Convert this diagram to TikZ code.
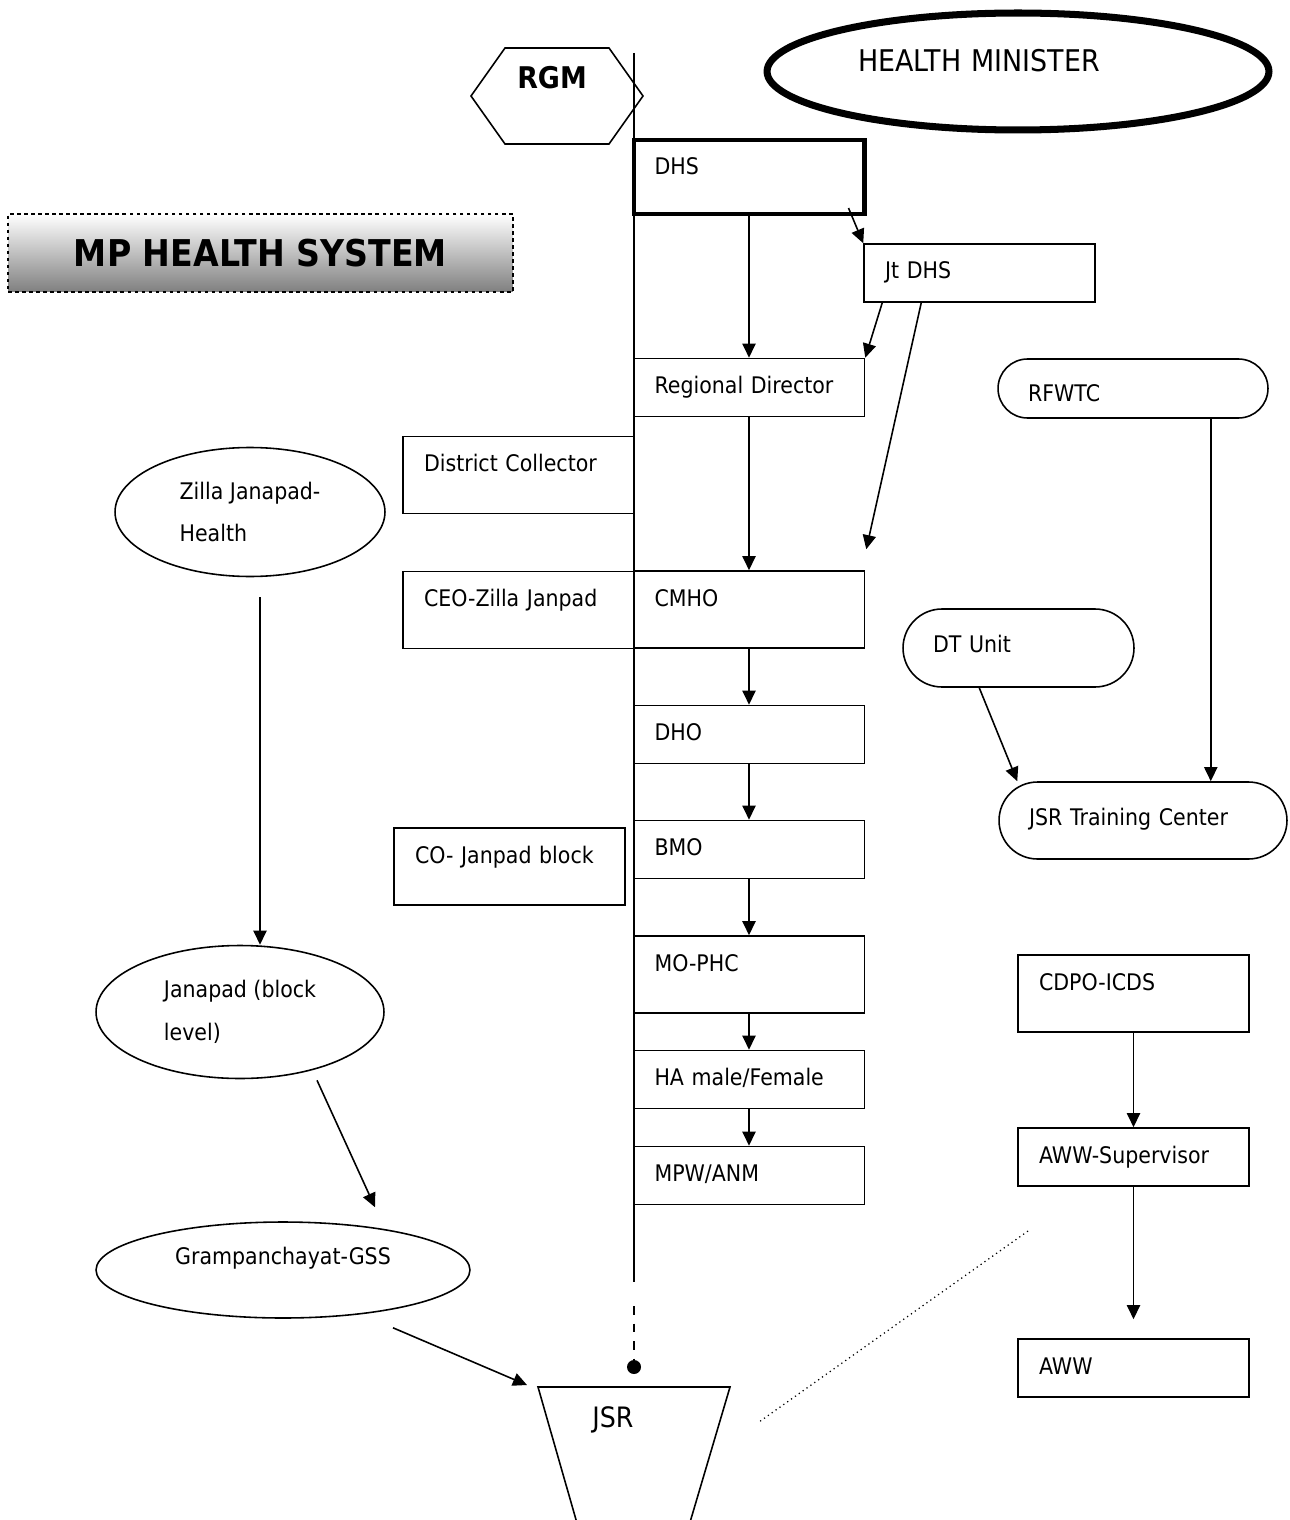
\documentclass[tikz,border=0pt]{standalone}
\usepackage{fontspec}
\setmainfont{DejaVu Sans}[FakeStretch=0.9]
\usetikzlibrary{shapes.geometric,arrows.meta,calc}
\tikzset{
  >={Triangle[length=8pt,width=7.5pt]},
  box/.style={draw, line width=0.9pt, inner xsep=0.42cm, inner ysep=0pt,
    text width=3.78cm, align=left, text height=0.7cm, text depth=0.46cm},
  tallbox/.style={box, text depth=0.84cm},
  pill/.style={draw, line width=0.9pt, inner xsep=0.6cm, inner ysep=0pt,
    align=left, text height=0.86cm},
  oval/.style={draw, ellipse, line width=0.9pt, align=left,
    font=\fontsize{13}{24.4}\selectfont},
  link/.style={->, line width=0.9pt}
}

\begin{document}
\begin{tikzpicture}[x=0.02cm, y=-0.02cm, font=\fontsize{13}{15.6}\selectfont]
        \useasboundingbox (0,0) rectangle (1290,1520);
        \clip (0,0) rectangle (1290,1520);
        % spine
        \coordinate (spinetop) at (634,53);
        \coordinate (spinebot) at (634,1282);
        \coordinate (dashtop) at (634,1306);
        \node[circle, fill, inner sep=0pt, minimum size=0.28cm] (dot) at (634,1367) {};
        \draw[line width=0.9pt] (spinetop) -- (spinebot);
        \draw[line width=0.9pt, dash pattern=on 5pt off 5pt] (dashtop) -- (dot);
        % top row
        \node[font=\fontsize{17}{20}\selectfont\bfseries] (rgm) at (552,78) {RGM};
        \draw[line width=0.9pt] (471,96) -- (505,48) -- (609,48) -- (643,96) -- (609,144) -- (505,144) -- cycle;
        \node[draw, ellipse, line width=4pt, minimum width=10.04cm, minimum height=2.34cm, inner sep=0pt,
          text width=6.4cm, align=left, text height=0pt, text depth=0pt,
          font=\fontsize{17}{20}\selectfont] (minister) at (1018,71.5) {HEALTH MINISTER};
        \node[draw, line width=1.4pt, dash pattern=on 2pt off 2pt, top color=white, bottom color=black!50,
          minimum width=10.1cm, minimum height=1.56cm,
          font=\fontsize{21}{25}\selectfont\bfseries] (title) at (260.5,253) {MP HEALTH SYSTEM};
        % health department
        \node[tallbox, line width=2.3pt, text depth=0.78cm] (dhs) at (749,177) {DHS};
        \node[box] (jtdhs) at (979.5,273) {Jt DHS};
        \node[box] (rd) at (749,387.5) {Regional Director};
        \node[tallbox] (cmho) at (749,609.5) {CMHO};
        \node[box] (dho) at (749,734.5) {DHO};
        \node[box] (bmo) at (749,849.5) {BMO};
        \node[tallbox] (mophc) at (749,974.5) {MO-PHC};
        \node[box] (ha) at (749,1079.5) {HA male/Female};
        \node[box] (mpw) at (749,1175.5) {MPW/ANM};
        % administration
        \node[tallbox] (collector) at (518.5,475) {District Collector};
        \node[tallbox] (ceo) at (518.5,610) {CEO-Zilla Janpad};
        \node[tallbox] (coblock) at (509.5,866.5) {CO- Janpad block};
        \node[oval, minimum width=5.4cm, minimum height=2.58cm] (zilla) at (250,512) {Zilla Janapad-\\Health};
        \node[oval, minimum width=5.76cm, minimum height=2.66cm] (janapad) at (240,1012) {Janapad (block\\level)};
        \node[oval, minimum width=7.48cm, minimum height=1.92cm, text depth=0.55cm] (gram) at (283,1270) {Grampanchayat-GSS};
        % training and icds
        \node[pill, rounded corners=0.59cm, text width=4.2cm, text depth=0.32cm] (rfwtc) at (1133,388.5) {RFWTC};
        \node[pill, rounded corners=0.78cm, text width=3.42cm, text depth=0.7cm] (dtunit) at (1018.5,648) {DT Unit};
        \node[pill, rounded corners=0.77cm, text width=4.56cm, text depth=0.68cm] (jsrtc) at (1143,820.5) {JSR Training Center};
        \node[tallbox] (cdpo) at (1133.5,993.5) {CDPO-ICDS};
        \node[box] (awwsup) at (1133.5,1157) {AWW-Supervisor};
        \node[box] (aww) at (1133.5,1368) {AWW};
        % JSR
        \coordinate (jsrtl) at (538,1387);
        \coordinate (jsrtr) at (730,1387);
        \draw[line width=0.9pt] (jsrtl) -- (jsrtr) -- (667,1600) -- (599,1600) -- cycle;
        \node[font=\fontsize{16}{19}\selectfont] (jsr) at (613,1420) {JSR};
        % arrows
        \draw[link] (dhs) -- (rd);
        \draw[link] ($(dhs.south east)+(-18,-8)$) -- (jtdhs.north west);
        \draw[link] ($(jtdhs.south west)+(19,0)$) -- (rd.north east);
        \coordinate (jtend) at ($(cmho.north east)+(1,-21)$);
        \draw[link] ($(jtdhs.south west)+(58,0)$) -- (jtend);
        \draw[link] (rd) -- (cmho);
        \draw[link] (cmho) -- (dho);
        \draw[link] (dho) -- (bmo);
        \draw[link] (bmo) -- (mophc);
        \draw[link] (mophc) -- (ha);
        \draw[link] (ha) -- (mpw);
        \draw[link] ($(zilla.south)+(10,20)$) coordinate (z1) -- (z1 |- janapad.north);
        \draw[link] ($(janapad.south)+(77,1)$) -- ($(gram.north)+(92,-14)$);
        \draw[link] ($(gram.south)+(110,9)$) -- ($(jsrtl)+(-11,-2)$);
        \draw[link] ($(rfwtc.south east)+(-58,0)$) coordinate (r1) -- (r1 |- jsrtc.north);
        \draw[link] ($(dtunit.south west)+(77,0)$) -- ($(jsrtc.north west)+(19,0)$);
        \draw[link] (cdpo) -- (awwsup);
        \coordinate (awwend) at ($(aww.north)+(0,-19)$);
        \draw[link] (awwsup) -- (awwend);
        \coordinate (dotA) at (1028,1231);
        \coordinate (dotB) at (759,1422);
        \draw[dotted, line width=0.7pt] (dotA) -- (dotB);
\end{tikzpicture}
\end{document}
